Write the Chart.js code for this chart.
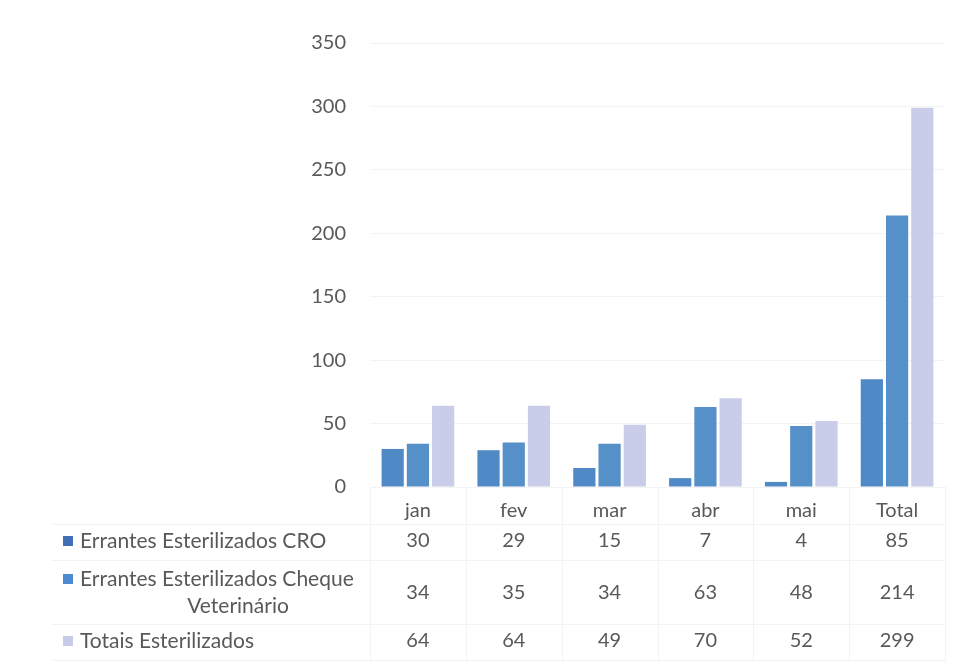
<!DOCTYPE html>
<html>
<head>
<meta charset="utf-8">
<script src="https://cdn.jsdelivr.net/npm/chart.js@4.4.1/dist/chart.umd.min.js"></script>
<style>
  html, body { margin: 0; padding: 0; background: #fff; }
  #wrap { width: 968px; height: 667px; }
</style>
</head>
<body>
<div id="wrap"><canvas id="grafico"></canvas></div>
<script>
const meses = ['jan', 'fev', 'mar', 'abr', 'mai', 'Total'];
const croValores = [30, 29, 15, 7, 4, 85];
const chequeValores = [34, 35, 34, 63, 48, 214];
const totaisValores = [64, 64, 49, 70, 52, 299];
const yTicks = [0, 50, 100, 150, 200, 250, 300, 350];

const cinza = '#595959';
const fonte = 'Lato, "Open Sans", sans-serif';

// tabela de dados por baixo do grafico (estilo Excel)
const tabelaPlugin = {
  id: 'tabela',
  afterDraw(chart) {
    const ctx = chart.ctx;
    const x = chart.scales.x;
    const area = chart.chartArea;
    const linhas = [
      { nome: ['Errantes Esterilizados CRO'], cor: '#3f70b5', valores: croValores, y: 541 },
      { nome: ['Errantes Esterilizados Cheque', 'Veterinário'], cor: '#4f8ad0', valores: chequeValores, y: 593 },
      { nome: ['Totais Esterilizados'], cor: '#c8cbe8', valores: totaisValores, y: 641 }
    ];
    const passo = x.getPixelForValue(1) - x.getPixelForValue(0);

    ctx.save();
    // linhas da tabela, quase invisiveis
    ctx.strokeStyle = '#f3f3f3';
    ctx.lineWidth = 1;
    ctx.beginPath();
    for (let i = 0; i <= meses.length; i++) {
      const px = Math.round(x.getPixelForValue(0) - passo / 2 + i * passo) + 0.5;
      ctx.moveTo(px, area.bottom);
      ctx.lineTo(px, 662);
    }
    [524, 560, 624, 660].forEach(py => {
      ctx.moveTo(52, py + 0.5);
      ctx.lineTo(area.right, py + 0.5);
    });
    ctx.stroke();

    ctx.fillStyle = cinza;
    ctx.textBaseline = 'middle';
    linhas.forEach(l => {
      // legenda
      ctx.font = '21px ' + fonte;
      ctx.fillStyle = l.cor;
      const yq = l.nome.length > 1 ? l.y - 14 : l.y;
      ctx.fillRect(63, yq - 5, 10, 10);
      ctx.fillStyle = cinza;
      if (l.nome.length > 1) {
        ctx.textAlign = 'left';
        ctx.fillText(l.nome[0], 80, l.y - 14);
        ctx.textAlign = 'center';
        ctx.fillText(l.nome[1], 238, l.y + 13);
      } else {
        ctx.textAlign = 'left';
        ctx.fillText(l.nome[0], 80, l.y);
      }
      // valores
      ctx.font = '20px ' + fonte;
      ctx.textAlign = 'center';
      l.valores.forEach((v, i) => {
        ctx.fillText(String(v), x.getPixelForValue(i), l.y);
      });
    });
    ctx.restore();
  }
};

new Chart(document.getElementById('grafico'), {
  type: 'bar',
  data: {
    labels: meses,
    datasets: [
      { label: 'Errantes Esterilizados CRO', data: croValores, backgroundColor: '#4f89c6' },
      { label: 'Errantes Esterilizados Cheque Veterinário', data: chequeValores, backgroundColor: '#5590c9' },
      { label: 'Totais Esterilizados', data: totaisValores, backgroundColor: '#c9cdea' }
    ]
  },
  options: {
    responsive: true,
    maintainAspectRatio: false,
    animation: false,
    layout: { padding: { top: 43, right: 23, left: 0, bottom: 0 } },
    plugins: {
      legend: { display: false },
      tooltip: { enabled: false }
    },
    datasets: {
      bar: { categoryPercentage: 0.79, barPercentage: 0.88 }
    },
    scales: {
      x: {
        grid: { display: false },
        border: { display: false },
        ticks: { color: cinza, font: { family: fonte, size: 20 }, padding: 4 },
        afterFit(axis) { axis.height = 180; }
      },
      y: {
        min: 0,
        max: 350,
        afterBuildTicks(axis) { axis.ticks = yTicks.map(v => ({ value: v })); },
        grid: { color: '#f3f3f3', drawTicks: false },
        border: { display: false },
        ticks: { color: cinza, font: { family: fonte, size: 20 }, padding: 24 },
        afterFit(axis) { axis.width = 370; }
      }
    }
  },
  plugins: [tabelaPlugin]
});
</script>
</body>
</html>
